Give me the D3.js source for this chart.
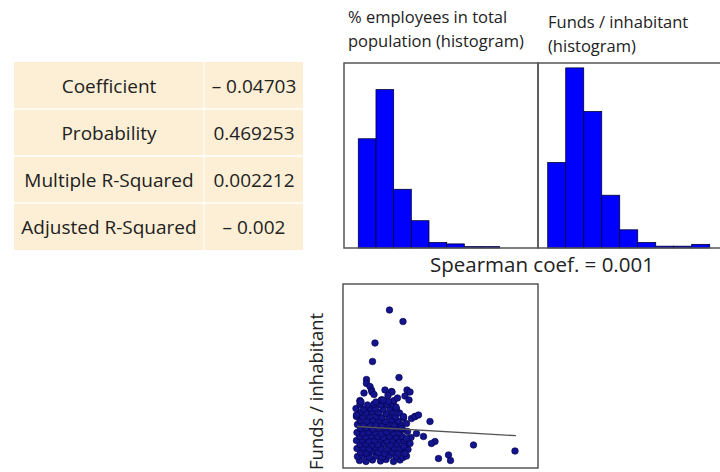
<!DOCTYPE html>
<html><head><meta charset="utf-8">
<script src="https://cdn.jsdelivr.net/npm/d3@7"></script>
<style>body{margin:0;background:#fff}svg{display:block}text{font-family:"Open Sans",sans-serif;fill:#222}</style>
</head><body>
<svg id="c" width="720" height="472"></svg>
<script>
// ---- data ----
const tableLabels = ["Coefficient", "Probability", "Multiple R-Squared", "Adjusted R-Squared"];
const tableValues = ["\u2013 0.04703", "0.469253", "0.002212", "\u2013 0.002"];
const hist1Title = ["% employees in total", "population (histogram)"];
const hist2Title = ["Funds / inhabitant", "(histogram)"];
const hist1Counts = [80, 116, 43, 20, 4, 3, 0, 1, 0, 1];
const hist2Counts = [47, 99, 75, 29, 10, 3, 1, 1, 0, 2];
const spearmanText = "Spearman coef. = 0.001";
const scatterYLabel = "Funds / inhabitant";
// scatter: % employees (x) vs funds per inhabitant (y)
const scatterX = [
 3.3,4.6,5.9,7.5,8.6,10.1,11.4,
 2.9,4.0,5.2,6.6,7.9,9.3,10.6,12.0,12.7,
 3.5,4.7,5.8,7.1,8.3,9.8,11.0,12.3,
 2.8,4.1,5.3,6.4,7.6,8.9,10.2,11.5,13.0,
 3.4,4.6,5.9,7.0,8.2,9.5,10.8,12.6,
 2.7,3.9,5.2,6.3,7.5,8.8,10.0,11.3,12.2,
 3.3,4.5,5.7,6.9,8.1,9.3,10.6,11.8,13.6,
 2.8,4.0,5.1,6.4,7.7,8.7,10.1,11.2,12.9,
 3.5,4.6,5.9,7.2,8.3,9.6,10.7,11.9,
 2.9,4.1,5.4,6.6,7.9,9.0,10.3,11.5,12.7,
 3.4,4.8,6.0,7.3,8.5,9.8,11.0,
 2.7,4.0,5.3,6.7,7.8,9.2,10.5,12.1,14.4,
 3.3,4.6,5.8,7.1,8.6,9.9,11.3,
 2.6,4.1,5.4,6.5,8.0,9.4,10.7,
 3.4,4.9,6.2,7.6,8.8,10.1,
 3.4,7.7,10.2,
 12.8,13.4,12.4,13.2,12.1,13.7,11.7,12.7,13.4,12.1,12.4,14.4,15.1,14.7,16.1,17.4,18.4,17.7,19.1,21.1,21.5,26.1,34.4,
 9.3,12.0,6.4,5.9,4.7,11.2,4.7,5.4,5.7,8.4,9.7,7.7,9.1,3.4,2.7,
 3.6,6.6,8.0,10.6,5.8,9.8,
 6.2,9.0,4.2,10.9
];
const scatterY = [
 1.5,1.3,1.6,1.4,1.7,1.3,1.6,
 2.3,2.5,2.2,2.4,2.2,2.5,2.3,2.1,2.4,
 3.1,3.0,3.3,3.1,2.9,3.2,3.0,3.2,
 3.9,4.0,3.8,4.1,3.9,3.8,4.0,3.9,3.7,
 4.7,4.8,4.6,4.7,4.9,4.6,4.8,4.7,
 5.5,5.6,5.4,5.5,5.7,5.4,5.6,5.5,5.3,
 6.3,6.2,6.4,6.3,6.1,6.4,6.2,6.3,6.1,
 7.1,7.0,7.2,7.1,6.9,7.2,7.0,7.1,7.3,
 7.9,8.0,7.8,7.9,8.1,7.8,8.0,7.7,
 8.7,8.6,8.8,8.7,8.5,8.8,8.6,8.7,8.9,
 9.5,9.4,9.6,9.5,9.3,9.6,9.4,
 10.3,10.2,10.4,10.3,10.1,10.4,10.2,10.0,10.3,
 11.1,11.0,11.2,11.1,10.9,11.2,11.0,
 11.9,11.8,12.0,11.9,11.7,12.0,11.8,
 12.7,12.6,12.8,12.6,12.7,12.5,
 13.5,13.6,13.5,
 15.6,15.2,14.4,13.6,10.3,9.9,7.9,5.9,4.9,4.3,2.9,10.3,10.6,6.9,6.3,9.3,5.3,4.9,1.9,2.6,1.5,4.6,3.4,
 31.6,29.3,25.0,21.3,17.7,18.1,16.9,16.3,15.6,15.6,15.3,13.6,13.3,13.3,10.6,
 13.2,13.2,13.6,12.2,15.2,15.2,
 14.7,14.5,15.0,14.0
];
const fitX = [2.8, 34.6];
const fitY = [8.3, 6.46];

// ---- drawing ----
const svg = d3.select("#c");

// table
const rowY = d3.scaleBand().domain(d3.range(tableLabels.length)).range([62, 250]);
const tbl = svg.append("g");
tbl.append("rect").attr("x", 14).attr("y", 62).attr("width", 289).attr("height", 188).attr("fill", "#fcefd5");
tbl.selectAll("line.r").data(d3.range(1, tableLabels.length)).join("line")
  .attr("x1", 14).attr("x2", 303).attr("y1", d => rowY(d)).attr("y2", d => rowY(d))
  .attr("stroke", "#fff").attr("stroke-width", 1.5);
tbl.append("line").attr("x1", 204).attr("x2", 204).attr("y1", 62).attr("y2", 250).attr("stroke", "#fff").attr("stroke-width", 1);
tbl.selectAll("text.l").data(tableLabels).join("text")
  .attr("x", 109).attr("y", (d, i) => rowY(i) + rowY.bandwidth() / 2 + 7)
  .attr("text-anchor", "middle").attr("font-size", 19).text(d => d);
tbl.selectAll("text.v").data(tableValues).join("text")
  .attr("x", 254).attr("y", (d, i) => rowY(i) + rowY.bandwidth() / 2 + 7)
  .attr("text-anchor", "middle").attr("font-size", 19).text(d => d);

// histograms
function hist(counts, x0, x1, domainX, yMax, title, tx, ty) {
  const x = d3.scaleLinear().domain(domainX).range([x0, x1]);
  const y = d3.scaleLinear().domain([0, yMax]).range([248, 63]);
  const g = svg.append("g");
  g.selectAll("rect").data(counts).join("rect")
    .filter(d => d > 0)
    .attr("x", (d, i) => x(i)).attr("width", (d, i) => x(i + 1) - x(i))
    .attr("y", d => y(d)).attr("height", d => y(0) - y(d))
    .attr("fill", "#0000ff").attr("stroke", "#000033").attr("stroke-width", 0.8);
  g.append("rect").attr("x", x0).attr("y", 63).attr("width", x1 - x0).attr("height", 185)
    .attr("fill", "none").attr("stroke", "#555").attr("stroke-width", 1.5);
  g.selectAll("text").data(title).join("text")
    .attr("x", tx).attr("y", (d, i) => ty + i * 24).attr("font-size", 16.5).text(d => d);
}
hist(hist1Counts, 344, 538, [-0.81, 10.17], 135.5, hist1Title, 348, 23);
hist(hist2Counts, 538, 734, [-0.54, 10.35], 101.7, hist2Title, 548, 28);

svg.append("text").attr("x", 430).attr("y", 272).attr("font-size", 20.5).text(spearmanText);

// scatter
const sx = d3.scaleLinear().domain([0, 39]).range([343, 538]);
const sy = d3.scaleLinear().domain([0, 36.8]).range([468, 284]);
const sg = svg.append("g");
sg.append("rect").attr("x", 343).attr("y", 284).attr("width", 195).attr("height", 184)
  .attr("fill", "#fff").attr("stroke", "#555").attr("stroke-width", 1.5);
sg.selectAll("circle").data(scatterX).join("circle")
  .attr("cx", d => sx(d)).attr("cy", (d, i) => sy(scatterY[i])).attr("r", 3.3)
  .attr("fill", "#14148c").attr("stroke", "#00004a").attr("stroke-width", 0.6);
sg.append("line").attr("x1", sx(fitX[0])).attr("y1", sy(fitY[0])).attr("x2", sx(fitX[1])).attr("y2", sy(fitY[1]))
  .attr("stroke", "#555").attr("stroke-width", 1.3);
svg.append("text").attr("transform", "translate(323,470) rotate(-90)")
  .attr("font-size", 18.5).text(scatterYLabel);
</script>
</body></html>
